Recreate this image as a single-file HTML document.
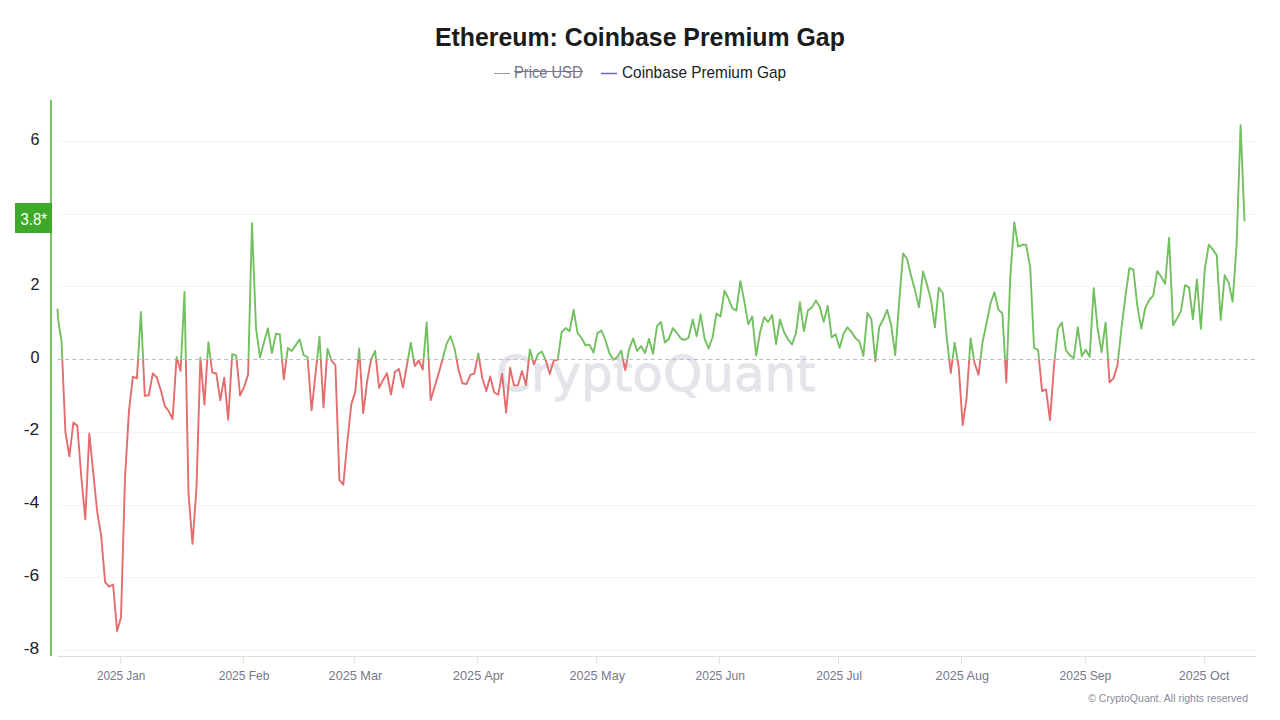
<!DOCTYPE html>
<html><head><meta charset="utf-8"><style>
html,body{margin:0;padding:0;background:#fff;}
body{width:1280px;height:720px;overflow:hidden;position:relative;}
svg{position:absolute;left:0;top:0;font-family:"Liberation Sans",sans-serif;}
.wm{font-family:"DejaVu Sans",sans-serif;font-weight:bold;font-size:51px;fill:#e3e3ea;}
</style></head><body>
<svg width="1280" height="720" viewBox="0 0 1280 720">
<defs>
<clipPath id="cu"><rect x="0" y="0" width="1280" height="359.60"/></clipPath>
<clipPath id="cd"><rect x="0" y="359.60" width="1280" height="360.40"/></clipPath>
</defs>
<line x1="494" x2="510" y1="73.5" y2="73.5" stroke="#9a9aa8" stroke-width="1"/>
<line x1="514" x2="583" y1="71.5" y2="71.5" stroke="#74748a" stroke-width="1.2"/>
<line x1="601" x2="617" y1="73.5" y2="73.5" stroke="#6b5cf5" stroke-width="1.5"/>
<line x1="58" x2="1256" y1="141.5" y2="141.5" stroke="#f5f5f8" stroke-width="1"/>
<line x1="58" x2="1256" y1="214.5" y2="214.5" stroke="#f5f5f8" stroke-width="1"/>
<line x1="58" x2="1256" y1="286.5" y2="286.5" stroke="#f5f5f8" stroke-width="1"/>
<line x1="58" x2="1256" y1="432.5" y2="432.5" stroke="#f5f5f8" stroke-width="1"/>
<line x1="58" x2="1256" y1="505.5" y2="505.5" stroke="#f5f5f8" stroke-width="1"/>
<line x1="58" x2="1256" y1="577.5" y2="577.5" stroke="#f5f5f8" stroke-width="1"/>
<line x1="58" x2="1256" y1="650.5" y2="650.5" stroke="#f5f5f8" stroke-width="1"/>

<text id="wm" x="496.00" y="391.3" font-size="50" font-family="DejaVu Sans" fill="#e4e4eb" stroke="#e4e4eb" stroke-width="0.9" textLength="319.82" lengthAdjust="spacingAndGlyphs">CryptoQuant</text>
<line x1="57.77" x2="1256" y1="359.5" y2="359.5" stroke="#bcbccb" stroke-width="1" stroke-dasharray="4.1,3.13"/>
<line x1="58" x2="1256" y1="656.5" y2="656.5" stroke="#dcdce6" stroke-width="1"/>
<line x1="120.5" x2="120.5" y1="656" y2="664" stroke="#e4e4ec" stroke-width="1"/>
<line x1="243.5" x2="243.5" y1="656" y2="664" stroke="#e4e4ec" stroke-width="1"/>
<line x1="354.5" x2="354.5" y1="656" y2="664" stroke="#e4e4ec" stroke-width="1"/>
<line x1="477.5" x2="477.5" y1="656" y2="664" stroke="#e4e4ec" stroke-width="1"/>
<line x1="596.5" x2="596.5" y1="656" y2="664" stroke="#e4e4ec" stroke-width="1"/>
<line x1="719.5" x2="719.5" y1="656" y2="664" stroke="#e4e4ec" stroke-width="1"/>
<line x1="838.5" x2="838.5" y1="656" y2="664" stroke="#e4e4ec" stroke-width="1"/>
<line x1="961.5" x2="961.5" y1="656" y2="664" stroke="#e4e4ec" stroke-width="1"/>
<line x1="1085.5" x2="1085.5" y1="656" y2="664" stroke="#e4e4ec" stroke-width="1"/>
<line x1="1204.5" x2="1204.5" y1="656" y2="664" stroke="#e4e4ec" stroke-width="1"/>

<g fill="none" stroke-width="1.9" stroke-linejoin="round" stroke-linecap="round">
<polyline clip-path="url(#cu)" stroke="#72c060" points="57.5,309.4 58.2,320.0 61.5,341.0 65.4,432.0 69.4,456.3 73.4,422.5 77.3,425.7 81.3,477.0 85.3,519.4 89.3,433.5 93.2,472.0 97.2,511.7 101.2,536.2 105.1,582.1 109.1,586.7 113.1,584.5 117.1,631.0 121.0,617.2 125.0,478.0 129.0,410.6 132.9,376.7 136.9,378.4 140.9,311.9 144.8,395.9 148.8,395.3 152.8,373.4 156.8,377.5 160.7,389.7 164.7,405.6 168.7,411.2 172.6,419.0 176.6,357.0 180.6,370.9 184.5,291.9 188.5,493.3 192.5,543.9 196.5,487.8 200.4,357.8 204.4,404.5 208.4,342.2 212.3,372.5 216.3,373.5 220.3,400.4 224.2,377.7 228.2,419.7 232.2,354.2 236.2,355.7 240.1,395.3 244.1,386.9 248.1,374.6 252.0,223.2 256.0,328.3 260.0,357.4 263.9,342.7 267.9,328.3 271.9,353.1 275.9,333.8 279.8,334.2 283.8,379.4 287.8,348.0 291.7,351.0 295.7,345.1 299.7,339.4 303.6,355.0 307.6,357.3 311.6,410.3 315.6,373.4 319.5,336.6 323.5,407.4 327.5,348.6 331.4,360.5 335.4,365.2 339.4,479.9 343.3,484.7 347.3,442.0 351.3,404.4 355.2,391.9 359.2,348.4 363.2,413.1 367.2,380.8 371.1,359.5 375.1,350.8 379.1,387.9 383.0,380.1 387.0,373.2 391.0,394.5 394.9,372.0 398.9,368.9 402.9,387.6 406.9,365.3 410.8,342.8 414.8,366.2 418.8,360.4 422.7,369.6 426.7,322.5 430.7,400.1 434.7,386.4 438.6,373.4 442.6,359.2 446.6,343.9 450.5,336.3 454.5,348.2 458.5,369.6 462.4,383.3 466.4,384.1 470.4,374.9 474.4,373.4 478.3,353.5 482.3,378.0 486.3,391.0 490.2,376.5 494.2,392.5 498.2,394.8 502.1,373.9 506.1,412.7 510.1,367.8 514.0,385.6 518.0,385.2 522.0,371.1 526.0,385.2 529.9,349.5 533.9,364.4 537.9,354.3 541.8,351.5 545.8,360.6 549.8,374.0 553.8,360.5 557.7,359.8 561.7,332.0 565.7,328.1 569.6,331.2 573.6,310.0 577.6,333.1 581.5,338.0 585.5,345.2 589.5,344.6 593.5,352.5 597.4,333.1 601.4,330.6 605.4,340.0 609.3,353.1 613.3,359.8 617.3,356.9 621.2,350.6 625.2,370.0 629.2,348.8 633.1,338.5 637.1,351.0 641.1,346.2 645.1,353.1 649.0,338.8 653.0,353.8 657.0,326.2 660.9,321.9 664.9,342.5 668.9,338.8 672.9,328.1 676.8,332.8 680.8,338.5 684.8,340.0 688.7,337.5 692.7,319.4 696.7,336.4 700.6,314.3 704.6,338.6 708.6,348.5 712.6,337.3 716.5,313.5 720.5,316.4 724.5,290.8 728.4,298.4 732.4,308.3 736.4,310.6 740.3,281.2 744.3,301.0 748.3,324.4 752.2,316.4 756.2,355.5 760.2,331.4 764.2,317.2 768.1,322.1 772.1,315.1 776.1,344.2 780.0,319.5 784.0,332.0 788.0,339.3 792.0,344.5 795.9,333.3 799.9,302.3 803.9,331.4 807.8,310.6 811.8,307.6 815.8,300.6 819.7,306.7 823.7,321.7 827.7,305.9 831.7,337.3 835.6,334.3 839.6,347.9 843.6,333.5 847.5,327.3 851.5,332.1 855.5,338.1 859.4,341.5 863.4,356.0 867.4,313.0 871.4,319.3 875.3,361.2 879.3,326.7 883.3,319.3 887.2,309.9 891.2,325.3 895.2,355.2 899.1,303.0 903.1,253.5 907.1,259.0 911.1,275.7 915.0,290.3 919.0,307.4 923.0,271.5 926.9,284.3 930.9,299.7 934.9,327.3 938.8,287.7 942.8,293.0 946.8,338.0 950.8,373.0 954.7,342.8 958.7,367.0 962.7,425.1 966.6,398.0 970.6,338.3 974.6,363.3 978.5,374.7 982.5,342.5 986.5,323.3 990.5,303.5 994.4,292.3 998.4,309.8 1002.4,313.4 1006.3,382.5 1010.3,276.4 1014.3,222.2 1018.2,246.6 1022.2,244.8 1026.2,244.8 1030.2,267.4 1034.1,348.0 1038.1,349.9 1042.1,391.2 1046.0,389.4 1050.0,420.1 1054.0,365.7 1057.9,328.5 1061.9,322.6 1065.9,350.2 1069.8,355.3 1073.8,358.2 1077.8,327.1 1081.8,356.0 1085.7,349.8 1089.7,356.8 1093.7,288.2 1097.6,328.5 1101.6,352.2 1105.6,322.4 1109.5,382.2 1113.5,378.4 1117.5,365.0 1121.5,328.0 1125.4,296.4 1129.4,268.2 1133.4,269.6 1137.3,305.6 1141.3,328.9 1145.3,307.8 1149.2,300.0 1153.2,295.6 1157.2,271.1 1161.2,276.7 1165.1,283.8 1169.1,237.8 1173.1,325.2 1177.0,318.6 1181.0,310.9 1185.0,285.2 1189.0,287.4 1192.9,319.2 1196.9,279.4 1200.9,328.8 1204.8,269.0 1208.8,244.7 1212.8,249.6 1216.7,255.1 1220.7,320.0 1224.7,275.3 1228.7,282.9 1232.6,301.7 1236.6,245.0 1240.6,125.1 1244.5,220.7"/>
<polyline clip-path="url(#cd)" stroke="#e46c6c" points="57.5,309.4 58.2,320.0 61.5,341.0 65.4,432.0 69.4,456.3 73.4,422.5 77.3,425.7 81.3,477.0 85.3,519.4 89.3,433.5 93.2,472.0 97.2,511.7 101.2,536.2 105.1,582.1 109.1,586.7 113.1,584.5 117.1,631.0 121.0,617.2 125.0,478.0 129.0,410.6 132.9,376.7 136.9,378.4 140.9,311.9 144.8,395.9 148.8,395.3 152.8,373.4 156.8,377.5 160.7,389.7 164.7,405.6 168.7,411.2 172.6,419.0 176.6,357.0 180.6,370.9 184.5,291.9 188.5,493.3 192.5,543.9 196.5,487.8 200.4,357.8 204.4,404.5 208.4,342.2 212.3,372.5 216.3,373.5 220.3,400.4 224.2,377.7 228.2,419.7 232.2,354.2 236.2,355.7 240.1,395.3 244.1,386.9 248.1,374.6 252.0,223.2 256.0,328.3 260.0,357.4 263.9,342.7 267.9,328.3 271.9,353.1 275.9,333.8 279.8,334.2 283.8,379.4 287.8,348.0 291.7,351.0 295.7,345.1 299.7,339.4 303.6,355.0 307.6,357.3 311.6,410.3 315.6,373.4 319.5,336.6 323.5,407.4 327.5,348.6 331.4,360.5 335.4,365.2 339.4,479.9 343.3,484.7 347.3,442.0 351.3,404.4 355.2,391.9 359.2,348.4 363.2,413.1 367.2,380.8 371.1,359.5 375.1,350.8 379.1,387.9 383.0,380.1 387.0,373.2 391.0,394.5 394.9,372.0 398.9,368.9 402.9,387.6 406.9,365.3 410.8,342.8 414.8,366.2 418.8,360.4 422.7,369.6 426.7,322.5 430.7,400.1 434.7,386.4 438.6,373.4 442.6,359.2 446.6,343.9 450.5,336.3 454.5,348.2 458.5,369.6 462.4,383.3 466.4,384.1 470.4,374.9 474.4,373.4 478.3,353.5 482.3,378.0 486.3,391.0 490.2,376.5 494.2,392.5 498.2,394.8 502.1,373.9 506.1,412.7 510.1,367.8 514.0,385.6 518.0,385.2 522.0,371.1 526.0,385.2 529.9,349.5 533.9,364.4 537.9,354.3 541.8,351.5 545.8,360.6 549.8,374.0 553.8,360.5 557.7,359.8 561.7,332.0 565.7,328.1 569.6,331.2 573.6,310.0 577.6,333.1 581.5,338.0 585.5,345.2 589.5,344.6 593.5,352.5 597.4,333.1 601.4,330.6 605.4,340.0 609.3,353.1 613.3,359.8 617.3,356.9 621.2,350.6 625.2,370.0 629.2,348.8 633.1,338.5 637.1,351.0 641.1,346.2 645.1,353.1 649.0,338.8 653.0,353.8 657.0,326.2 660.9,321.9 664.9,342.5 668.9,338.8 672.9,328.1 676.8,332.8 680.8,338.5 684.8,340.0 688.7,337.5 692.7,319.4 696.7,336.4 700.6,314.3 704.6,338.6 708.6,348.5 712.6,337.3 716.5,313.5 720.5,316.4 724.5,290.8 728.4,298.4 732.4,308.3 736.4,310.6 740.3,281.2 744.3,301.0 748.3,324.4 752.2,316.4 756.2,355.5 760.2,331.4 764.2,317.2 768.1,322.1 772.1,315.1 776.1,344.2 780.0,319.5 784.0,332.0 788.0,339.3 792.0,344.5 795.9,333.3 799.9,302.3 803.9,331.4 807.8,310.6 811.8,307.6 815.8,300.6 819.7,306.7 823.7,321.7 827.7,305.9 831.7,337.3 835.6,334.3 839.6,347.9 843.6,333.5 847.5,327.3 851.5,332.1 855.5,338.1 859.4,341.5 863.4,356.0 867.4,313.0 871.4,319.3 875.3,361.2 879.3,326.7 883.3,319.3 887.2,309.9 891.2,325.3 895.2,355.2 899.1,303.0 903.1,253.5 907.1,259.0 911.1,275.7 915.0,290.3 919.0,307.4 923.0,271.5 926.9,284.3 930.9,299.7 934.9,327.3 938.8,287.7 942.8,293.0 946.8,338.0 950.8,373.0 954.7,342.8 958.7,367.0 962.7,425.1 966.6,398.0 970.6,338.3 974.6,363.3 978.5,374.7 982.5,342.5 986.5,323.3 990.5,303.5 994.4,292.3 998.4,309.8 1002.4,313.4 1006.3,382.5 1010.3,276.4 1014.3,222.2 1018.2,246.6 1022.2,244.8 1026.2,244.8 1030.2,267.4 1034.1,348.0 1038.1,349.9 1042.1,391.2 1046.0,389.4 1050.0,420.1 1054.0,365.7 1057.9,328.5 1061.9,322.6 1065.9,350.2 1069.8,355.3 1073.8,358.2 1077.8,327.1 1081.8,356.0 1085.7,349.8 1089.7,356.8 1093.7,288.2 1097.6,328.5 1101.6,352.2 1105.6,322.4 1109.5,382.2 1113.5,378.4 1117.5,365.0 1121.5,328.0 1125.4,296.4 1129.4,268.2 1133.4,269.6 1137.3,305.6 1141.3,328.9 1145.3,307.8 1149.2,300.0 1153.2,295.6 1157.2,271.1 1161.2,276.7 1165.1,283.8 1169.1,237.8 1173.1,325.2 1177.0,318.6 1181.0,310.9 1185.0,285.2 1189.0,287.4 1192.9,319.2 1196.9,279.4 1200.9,328.8 1204.8,269.0 1208.8,244.7 1212.8,249.6 1216.7,255.1 1220.7,320.0 1224.7,275.3 1228.7,282.9 1232.6,301.7 1236.6,245.0 1240.6,125.1 1244.5,220.7"/>
</g>
<rect x="50" y="100" width="2" height="556" fill="#76c462"/>
<rect x="15" y="203" width="37" height="30" fill="#3ca928"/>
<text id="title" x="435.00" y="45.80" font-size="25.7" fill="#1b1b1b" font-weight="bold" textLength="409.81" lengthAdjust="spacingAndGlyphs">Ethereum: Coinbase Premium Gap</text>
<text id="lg1" x="514.00" y="77.75" font-size="16.2" fill="#74748a" font-weight="normal" textLength="68.50" lengthAdjust="spacingAndGlyphs">Price USD</text>
<text id="lg2" x="622.00" y="77.75" font-size="16.2" fill="#222" font-weight="normal" textLength="164.00" lengthAdjust="spacingAndGlyphs">Coinbase Premium Gap</text>
<text id="ft" x="1088.20" y="701.90" font-size="11.5" fill="#8a8a98" font-weight="normal" textLength="159.80" lengthAdjust="spacingAndGlyphs">© CryptoQuant. All rights reserved</text>
<text id="box" x="20.50" y="224.80" font-size="16.2" fill="#fff" font-weight="normal" textLength="26.50" lengthAdjust="spacingAndGlyphs">3.8*</text>
<text id="xJan" x="96.90" y="679.90" font-size="12.9" fill="#77778a" font-weight="normal" textLength="48.40" lengthAdjust="spacingAndGlyphs">2025 Jan</text>
<text id="xFeb" x="218.75" y="679.90" font-size="12.9" fill="#77778a" font-weight="normal" textLength="50.65" lengthAdjust="spacingAndGlyphs">2025 Feb</text>
<text id="xMar" x="328.60" y="679.90" font-size="12.9" fill="#77778a" font-weight="normal" textLength="53.60" lengthAdjust="spacingAndGlyphs">2025 Mar</text>
<text id="xApr" x="452.80" y="679.90" font-size="12.9" fill="#77778a" font-weight="normal" textLength="51.30" lengthAdjust="spacingAndGlyphs">2025 Apr</text>
<text id="xMay" x="569.50" y="679.90" font-size="12.9" fill="#77778a" font-weight="normal" textLength="55.50" lengthAdjust="spacingAndGlyphs">2025 May</text>
<text id="xJun" x="695.50" y="679.90" font-size="12.9" fill="#77778a" font-weight="normal" textLength="49.50" lengthAdjust="spacingAndGlyphs">2025 Jun</text>
<text id="xJul" x="816.25" y="679.90" font-size="12.9" fill="#77778a" font-weight="normal" textLength="45.75" lengthAdjust="spacingAndGlyphs">2025 Jul</text>
<text id="xAug" x="935.60" y="679.90" font-size="12.9" fill="#77778a" font-weight="normal" textLength="53.50" lengthAdjust="spacingAndGlyphs">2025 Aug</text>
<text id="xSep" x="1059.50" y="679.90" font-size="12.9" fill="#77778a" font-weight="normal" textLength="51.75" lengthAdjust="spacingAndGlyphs">2025 Sep</text>
<text id="xOct" x="1178.75" y="679.90" font-size="12.9" fill="#77778a" font-weight="normal" textLength="50.75" lengthAdjust="spacingAndGlyphs">2025 Oct</text>
<text id="y6" x="39.40" y="145.38" text-anchor="end" font-size="16.2" fill="#222" font-weight="normal">6</text>
<text id="y2" x="39.40" y="289.86" text-anchor="end" font-size="16.2" fill="#222" font-weight="normal">2</text>
<text id="y0" x="39.40" y="362.60" text-anchor="end" font-size="16.2" fill="#222" font-weight="normal">0</text>
<text id="y-2" x="23.80" y="435.34" font-size="16.2" fill="#222" font-weight="normal" textLength="15.46" lengthAdjust="spacingAndGlyphs">-2</text>
<text id="y-4" x="23.80" y="508.08" font-size="16.2" fill="#222" font-weight="normal" textLength="15.46" lengthAdjust="spacingAndGlyphs">-4</text>
<text id="y-6" x="23.80" y="580.82" font-size="16.2" fill="#222" font-weight="normal" textLength="15.46" lengthAdjust="spacingAndGlyphs">-6</text>
<text id="y-8" x="23.80" y="653.56" font-size="16.2" fill="#222" font-weight="normal" textLength="15.46" lengthAdjust="spacingAndGlyphs">-8</text>

</svg>
</body></html>
